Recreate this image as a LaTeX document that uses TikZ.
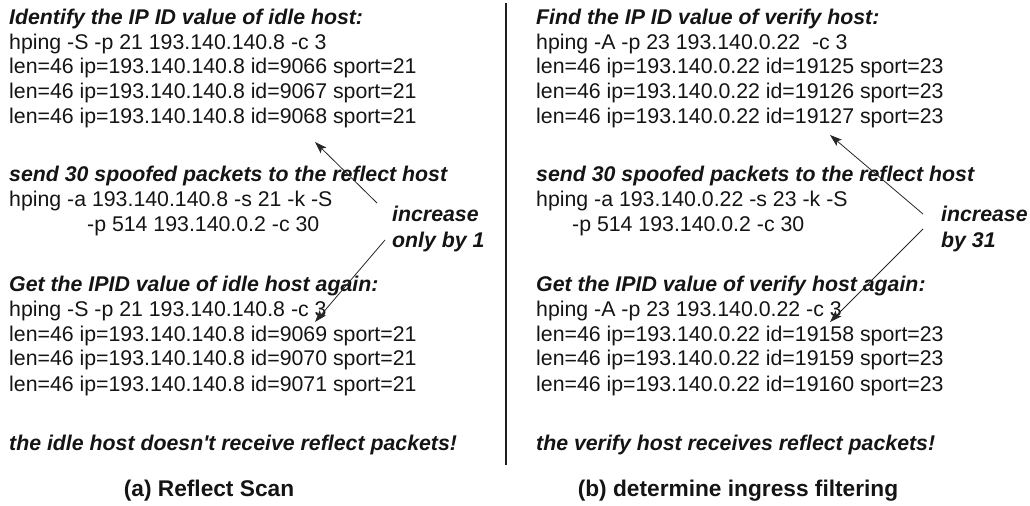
\documentclass[tikz,border=0pt]{standalone}
\usepackage{fontspec}
\setmainfont{Liberation Sans}
\usetikzlibrary{arrows.meta}

\begin{document}
\begin{tikzpicture}[x=1bp,y=-1bp,
  line/.style={inner sep=0pt, anchor=base west, font=\fontsize{21.3bp}{25bp}\selectfont, text=black!92},
  head/.style={line, font=\fontsize{21.3bp}{25bp}\selectfont\bfseries\itshape},
  note/.style={head, align=left},
  caption/.style={inner sep=0pt, anchor=base, font=\fontsize{22.7bp}{26bp}\selectfont\bfseries, text=black!92},
  pointer/.style={draw=black!85, line width=0.8bp, -{Stealth[length=12bp,width=8bp,inset=2.5bp]}},
  divider/.style={draw=black!88, line width=2.4bp}
]
\useasboundingbox (0,0) rectangle (1030,506);

% ---- left panel: reflect scan ----
\node[head] (l1)  at (9,25)  {Identify the IP ID value of idle host:};
\node[line] (l2)  at (9,49.5){hping -S -p 21 193.140.140.8 -c 3};
\node[line] (l3)  at (9,74)  {len=46 ip=193.140.140.8 id=9066 sport=21};
\node[line] (l4)  at (9,99)  {len=46 ip=193.140.140.8 id=9067 sport=21};
\node[line] (l5)  at (9,124) {len=46 ip=193.140.140.8 id=9068 sport=21};
\node[head] (l6)  at (9,182) {send 30 spoofed packets to the reflect host};
\node[line] (l7)  at (9,207) {hping -a 193.140.140.8 -s 21 -k -S};
\node[line] (l8)  at (87,232){-p 514 193.140.0.2 -c 30};
\node[head] (l9)  at (9,292) {Get the IPID value of idle host again:};
\node[line] (l10) at (9,317) {hping -S -p 21 193.140.140.8 -c 3};
\node[line] (l11) at (9,341.5){len=46 ip=193.140.140.8 id=9069 sport=21};
\node[line] (l12) at (9,366) {len=46 ip=193.140.140.8 id=9070 sport=21};
\node[line] (l13) at (9,391) {len=46 ip=193.140.140.8 id=9071 sport=21};
\node[head] (l14) at (9,450) {the idle host doesn\textquotesingle t receive reflect packets!};
\node[caption] (lcap) at (209,496) {(a) Reflect Scan};

\node[head] (lnoteA) at (392,222) {increase};
\node[head] (lnoteB) at (392,248) {only by 1};
\coordinate (lsrcA) at (377,203);
\coordinate (ltipA) at (315,142);
\coordinate (lsrcB) at (385,240);
\coordinate (ltipB) at (315,322);
\draw[pointer] (lsrcA) -- (ltipA);
\draw[pointer] (lsrcB) -- (ltipB);

% ---- separator ----
\coordinate (dtop) at (506,3);
\coordinate (dbot) at (506,465);
\draw[divider] (dtop) -- (dbot);

% ---- right panel: ingress filtering ----
\node[head] (r1)  at (536,25)  {Find the IP ID value of verify host:};
\node[line] (r2)  at (536,49.5){hping -A -p 23 193.140.0.22\ \ -c 3};
\node[line] (r3)  at (536,74)  {len=46 ip=193.140.0.22 id=19125 sport=23};
\node[line] (r4)  at (536,99)  {len=46 ip=193.140.0.22 id=19126 sport=23};
\node[line] (r5)  at (536,124) {len=46 ip=193.140.0.22 id=19127 sport=23};
\node[head] (r6)  at (536,182) {send 30 spoofed packets to the reflect host};
\node[line] (r7)  at (536,207) {hping -a 193.140.0.22 -s 23 -k -S};
\node[line] (r8)  at (572,232) {-p 514 193.140.0.2 -c 30};
\node[head] (r9)  at (536,292) {Get the IPID value of verify host again:};
\node[line] (r10) at (536,317) {hping -A -p 23 193.140.0.22 -c 3};
\node[line] (r11) at (536,341.5){len=46 ip=193.140.0.22 id=19158 sport=23};
\node[line] (r12) at (536,366) {len=46 ip=193.140.0.22 id=19159 sport=23};
\node[line] (r13) at (536,391) {len=46 ip=193.140.0.22 id=19160 sport=23};
\node[head] (r14) at (536,450) {the verify host receives reflect packets!};
\node[caption] (rcap) at (738,496) {(b) determine ingress filtering};

\node[head] (rnoteA) at (941,222) {increase};
\node[head] (rnoteB) at (941,248) {by 31};
\coordinate (rsrcA) at (923,214);
\coordinate (rtipA) at (830,135);
\coordinate (rsrcB) at (923,229);
\coordinate (rtipB) at (830,322);
\draw[pointer] (rsrcA) -- (rtipA);
\draw[pointer] (rsrcB) -- (rtipB);
\end{tikzpicture}
\end{document}
